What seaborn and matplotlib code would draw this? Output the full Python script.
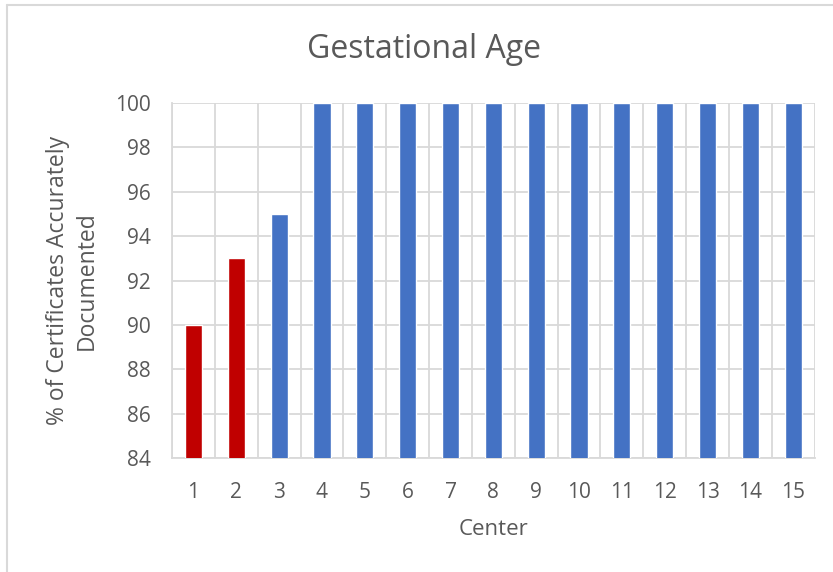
import numpy as np
import pandas as pd
import matplotlib
matplotlib.use('Agg')
import matplotlib.pyplot as plt
from matplotlib.lines import Line2D
import seaborn as sns

# Data
centers = [str(i) for i in range(1, 16)]
pct_accurate = [90, 93, 95, 100, 100, 100, 100, 100, 100, 100, 100, 100, 100, 100, 100]
below_target = ['yes', 'yes'] + ['no'] * 13

df = pd.DataFrame({'Center': centers, 'Pct': pct_accurate, 'Flag': below_target})

sns.set_style('white')
plt.rcParams['font.family'] = ['Open Sans', 'DejaVu Sans']
text_col = '#595959'
grid_col = '#D9D9D9'

fig = plt.figure(figsize=(8.33, 5.72), dpi=100)
ax = fig.add_axes([0.2065, 0.199, 0.7715, 0.621])

sns.barplot(data=df, x='Center', y='Pct', hue='Flag',
            palette={'yes': '#C00000', 'no': '#4472C4'}, saturation=1,
            width=0.4, dodge=False, legend=False, ax=ax, zorder=3)

ax.set_ylim(84, 100)
ax.set_yticks(np.arange(84, 101, 2))
ax.set_xlim(-0.5, len(centers) - 0.5)
ax.set_xticks(np.arange(-0.5, len(centers), 1), minor=True)
ax.grid(True, axis='y', color=grid_col, linewidth=1.3, zorder=0)
ax.grid(True, axis='x', which='minor', color=grid_col, linewidth=1.3, zorder=0)
ax.tick_params(which='both', length=0)
ax.tick_params(axis='both', labelsize=15, colors=text_col)
ax.tick_params(axis='y', pad=15)
ax.tick_params(axis='x', pad=17)

for side in ['top', 'right']:
    ax.spines[side].set_visible(False)
for side in ['left', 'bottom']:
    ax.spines[side].set_color(grid_col)
    ax.spines[side].set_linewidth(1.3)

ax.set_xlabel('Center', fontsize=16, color=text_col, labelpad=12)
ax.set_ylabel('% of Certificates Accurately\nDocumented', fontsize=16.5,
              color=text_col, labelpad=12, linespacing=1.25)
fig.text(424 / 833, 1 - 50 / 572, 'Gestational Age', ha='center', va='center',
         fontsize=23, color=text_col)

# chart frame edges (top and left)
fig.add_artist(Line2D([7 / 833, 1], [1 - 5 / 572, 1 - 5 / 572],
                      transform=fig.transFigure, color=grid_col, linewidth=1.5))
fig.add_artist(Line2D([7 / 833, 7 / 833], [0, 1 - 5 / 572],
                      transform=fig.transFigure, color=grid_col, linewidth=1.5))

fig.savefig('out.png', dpi=100)
